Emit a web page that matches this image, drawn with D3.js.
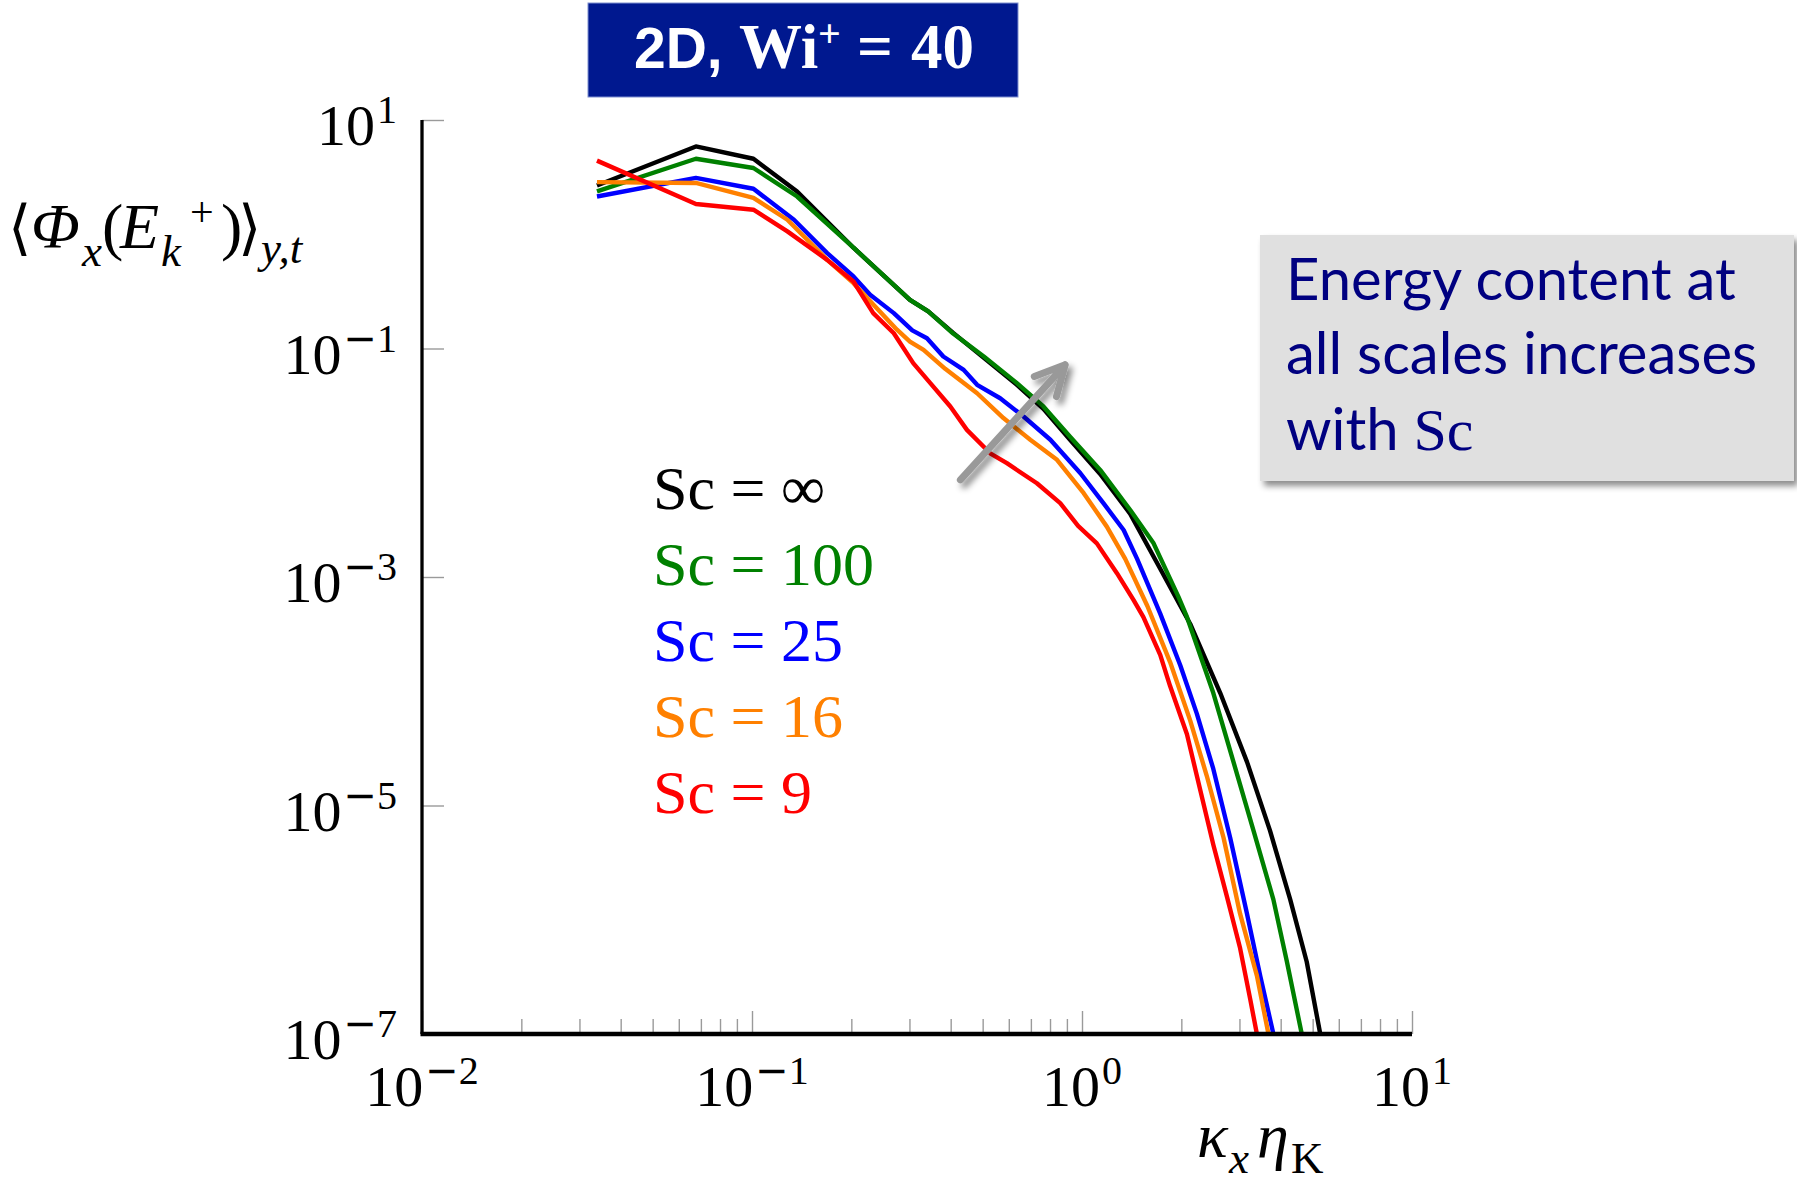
<!DOCTYPE html>
<html>
<head>
<meta charset="utf-8">
<script src="https://cdn.jsdelivr.net/npm/d3@7"></script>
<style>
  body { margin: 0; background: #fff; }
  svg { display: block; }
</style>
</head>
<body>
<div id="chart"></div>
<script>
// Spectra: kx*etaK and <Phi_x(E_k+)>_{y,t}
const kxInf = [0.0339, 0.0676, 0.101, 0.137, 0.203, 0.301, 0.342, 0.407, 0.504, 0.635, 0.764, 0.920, 1.135, 1.400, 1.726, 2.128, 2.624, 3.162, 3.715, 4.276, 4.797, 5.272];
const phiInf = [2.67, 5.87, 4.58, 2.37, 0.762, 0.267, 0.211, 0.137, 0.0828, 0.0481, 0.0296, 0.0159, 0.00798, 0.00357, 0.00118, 3.88e-4, 9.64e-5, 2.41e-5, 6.0e-6, 1.50e-6, 4.29e-7, 1.0e-7];

const kx100 = [0.0339, 0.0676, 0.101, 0.137, 0.203, 0.301, 0.342, 0.407, 0.504, 0.635, 0.764, 0.920, 1.135, 1.400, 1.648, 1.959, 2.080, 2.500, 2.877, 3.311, 3.802, 4.178, 4.634];
const phi100 = [2.37, 4.58, 3.80, 2.14, 0.762, 0.267, 0.211, 0.135, 0.0851, 0.0498, 0.0311, 0.0169, 0.00865, 0.00386, 0.00197, 6.73e-4, 4.47e-4, 9.64e-5, 2.41e-5, 6.0e-6, 1.50e-6, 4.29e-7, 1.0e-7];

const kx25 = [0.0339, 0.0676, 0.101, 0.134, 0.169, 0.203, 0.228, 0.269, 0.306, 0.339, 0.380, 0.438, 0.481, 0.565, 0.665, 0.802, 0.989, 1.161, 1.337, 1.469, 1.726, 1.986, 2.228, 2.500, 2.812, 3.162, 3.467, 3.802];
const phi25 = [2.14, 3.11, 2.50, 1.34, 0.684, 0.427, 0.295, 0.204, 0.144, 0.123, 0.0851, 0.0650, 0.0481, 0.0367, 0.0254, 0.0159, 0.00809, 0.00443, 0.00258, 0.00144, 4.78e-4, 1.68e-4, 6.37e-5, 2.09e-5, 5.22e-6, 1.13e-6, 3.24e-7, 1.0e-7];

const kx16 = [0.0339, 0.0676, 0.101, 0.128, 0.169, 0.203, 0.244, 0.275, 0.301, 0.331, 0.385, 0.481, 0.578, 0.697, 0.840, 1.012, 1.189, 1.352, 1.578, 1.849, 2.128, 2.388, 2.685, 3.013, 3.388, 3.673];
const phi16 = [2.86, 2.81, 2.08, 1.34, 0.597, 0.373, 0.211, 0.146, 0.115, 0.0973, 0.0664, 0.0406, 0.0246, 0.0159, 0.0106, 0.00541, 0.00276, 0.00144, 5.57e-4, 1.80e-4, 5.53e-5, 1.82e-5, 5.22e-6, 1.13e-6, 3.24e-7, 1.0e-7];

const kx9 = [0.0339, 0.0676, 0.101, 0.128, 0.169, 0.203, 0.233, 0.269, 0.308, 0.347, 0.399, 0.448, 0.527, 0.592, 0.730, 0.859, 0.973, 1.109, 1.276, 1.432, 1.535, 1.726, 1.849, 2.080, 2.280, 2.500, 2.748, 3.013, 3.236, 3.388];
const phi9 = [4.41, 1.84, 1.64, 1.06, 0.597, 0.386, 0.204, 0.136, 0.0745, 0.0498, 0.0311, 0.0194, 0.0121, 0.00991, 0.00662, 0.00443, 0.00280, 0.00197, 0.00108, 6.30e-4, 4.46e-4, 2.08e-4, 1.11e-4, 4.20e-5, 1.38e-5, 4.54e-6, 1.60e-6, 5.65e-7, 2.00e-7, 1.0e-7];

const seriesNames = ["∞", "100", "25", "16", "9"];
const seriesColors = ["#000000", "#008000", "#0000ff", "#ff8000", "#ff0000"];
const seriesKx = [kxInf, kx100, kx25, kx16, kx9];
const seriesPhi = [phiInf, phi100, phi25, phi16, phi9];

// Tick labels: 10 to the power of these
const xTicks = [1e-2, 1e-1, 1e0, 1e1];
const xTickExp = ["-2", "-1", "0", "1"];
const yTicks = [1e1, 1e-1, 1e-3, 1e-5, 1e-7];
const yTickExp = ["1", "-1", "-3", "-5", "-7"];

// "increases with Sc" arrow, in data coordinates (tail, head)
const arrowKx = [0.428, 0.889];
const arrowPhi = [0.00708, 0.0720];

const width = 1797, height = 1182;
const serif = "'Liberation Serif', 'Times New Roman', serif";

const svg = d3.select("#chart")
  .append("svg")
  .attr("width", width)
  .attr("height", height);

const defs = svg.append("defs");
const shadow = defs.append("filter").attr("id", "shadow")
  .attr("x", "-20%").attr("y", "-20%").attr("width", "140%").attr("height", "140%");
shadow.append("feDropShadow").attr("dx", 4).attr("dy", 5)
  .attr("stdDeviation", 3).attr("flood-color", "#000").attr("flood-opacity", 0.45);
defs.append("clipPath").attr("id", "plotClip")
  .append("rect").attr("x", 422).attr("y", 118).attr("width", 992).attr("height", 916);

// Scales
const x = d3.scaleLog().domain([1e-2, 1e1]).range([422, 1412]);
const y = d3.scaleLog().domain([1e-7, 1e1]).range([1034, 120]);

// x ticks: minor and major, pointing up into the plot
const minorX = x.ticks().filter(v => Math.abs(Math.log10(v) - Math.round(Math.log10(v))) > 1e-6);
svg.append("g")
  .attr("transform", `translate(0,${y(1e-7)})`)
  .call(d3.axisBottom(x).tickValues(minorX).tickSize(-15).tickFormat(""))
  .call(g => g.select(".domain").remove());
svg.append("g")
  .attr("transform", `translate(0,${y(1e-7)})`)
  .call(d3.axisBottom(x).tickValues(xTicks).tickSize(-23).tickFormat(""))
  .call(g => g.select(".domain").remove());

// y ticks pointing right
svg.append("g")
  .attr("transform", `translate(${x(1e-2)},0)`)
  .call(d3.axisLeft(y).tickValues(yTicks).tickSize(-22).tickFormat(""))
  .call(g => g.select(".domain").remove());

svg.selectAll(".tick line").attr("stroke", "#9a9a9a").attr("stroke-width", 1.4);

// Curves
const line = d3.line()
  .x(d => x(d[0]))
  .y(d => y(d[1]));

svg.append("g").attr("clip-path", "url(#plotClip)")
  .selectAll("path")
  .data(seriesKx.map((kx, i) => kx.map((k, j) => [k, seriesPhi[i][j]])))
  .enter()
  .append("path")
  .attr("d", line)
  .attr("fill", "none")
  .attr("stroke", (d, i) => seriesColors[i])
  .attr("stroke-width", 4.4)
  .attr("stroke-linejoin", "round");

// Axis lines
svg.append("line")
  .attr("x1", x(1e-2)).attr("x2", x(1e-2))
  .attr("y1", y(1e1)).attr("y2", y(1e-7))
  .attr("stroke", "#000").attr("stroke-width", 3.3);
svg.append("line")
  .attr("x1", x(1e-2) - 1.5).attr("x2", x(1e1))
  .attr("y1", y(1e-7)).attr("y2", y(1e-7))
  .attr("stroke", "#000").attr("stroke-width", 4.4);

// 10^e label: the minus comes from DejaVu Sans, which has a wider bar like TeX
function powerLabel(t, e) {
  t.append("tspan").text("10");
  const neg = e.startsWith("-");
  t.append("tspan")
    .attr("dy", -22).attr("dx", 2)
    .attr("font-size", 40)
    .style("font-family", neg ? "'DejaVu Sans'" : serif)
    .text(neg ? "−" : e);
  if (neg) t.append("tspan").attr("font-size", 40).text(e.slice(1));
}

const xLab = svg.append("g").style("font-family", serif).attr("fill", "#000");
xTicks.forEach((v, i) => {
  const t = xLab.append("text")
    .attr("x", x(v))
    .attr("y", y(1e-7) + 72)
    .attr("text-anchor", "middle")
    .attr("font-size", 58);
  powerLabel(t, xTickExp[i]);
});

const yLab = svg.append("g").style("font-family", serif).attr("fill", "#000");
yTicks.forEach((v, i) => {
  const t = yLab.append("text")
    .attr("x", x(1e-2) - 25)
    .attr("y", y(v) + 25)
    .attr("text-anchor", "end")
    .attr("font-size", 58);
  powerLabel(t, yTickExp[i]);
});

// Axis titles
const yTitle = svg.append("text")
  .attr("y", 248)
  .style("font-family", serif).attr("font-size", 64);
yTitle.append("tspan").attr("x", 8).attr("font-size", 60).style("font-family", "'DejaVu Serif', serif").text("⟨");
yTitle.append("tspan").attr("x", 31).attr("font-style", "italic").text("Φ");
yTitle.append("tspan").attr("x", 82).attr("dy", 18).attr("font-style", "italic").attr("font-size", 45).text("x");
yTitle.append("tspan").attr("x", 102).attr("dy", -18).text("(");
yTitle.append("tspan").attr("x", 120).attr("font-style", "italic").text("E");
yTitle.append("tspan").attr("x", 161).attr("dy", 18).attr("font-style", "italic").attr("font-size", 45).text("k");
yTitle.append("tspan").attr("x", 190).attr("dy", -40).attr("font-size", 42).text("+");
yTitle.append("tspan").attr("x", 221).attr("dy", 22).text(")");
yTitle.append("tspan").attr("x", 238).attr("font-size", 60).style("font-family", "'DejaVu Serif', serif").text("⟩");
yTitle.append("tspan").attr("x", 261).attr("dy", 15).attr("font-style", "italic").attr("font-size", 45).text("y,t");

const xTitle = svg.append("text")
  .attr("y", 1157)
  .style("font-family", serif).attr("font-size", 64);
xTitle.append("tspan").attr("x", 1197).attr("font-style", "italic").text("κ");
xTitle.append("tspan").attr("x", 1229).attr("dy", 16).attr("font-style", "italic").attr("font-size", 45).text("x");
xTitle.append("tspan").attr("x", 1257).attr("dy", -16).attr("font-style", "italic").text("η");
xTitle.append("tspan").attr("x", 1291).attr("dy", 16).attr("font-size", 45).text("K");

// Legend
svg.append("g")
  .style("font-family", serif).attr("font-size", 62)
  .selectAll("text")
  .data(seriesNames)
  .enter()
  .append("text")
  .attr("x", 653)
  .attr("y", (d, i) => 509 + i * 76)
  .attr("fill", (d, i) => seriesColors[i])
  .text(d => `Sc = ${d}`);

// Arrow
const ax0 = x(arrowKx[0]), ay0 = y(arrowPhi[0]);
const ax1 = x(arrowKx[1]), ay1 = y(arrowPhi[1]);
const ang = Math.atan2(ay0 - ay1, ax0 - ax1);
const barb = 33, spread = 27 * Math.PI / 180;
svg.append("path")
  .attr("d", `M${ax0},${ay0}L${ax1},${ay1}` +
    `M${ax1 + barb * Math.cos(ang - spread)},${ay1 + barb * Math.sin(ang - spread)}L${ax1},${ay1}` +
    `L${ax1 + barb * Math.cos(ang + spread)},${ay1 + barb * Math.sin(ang + spread)}`)
  .attr("fill", "none")
  .attr("stroke", "#999999")
  .attr("stroke-width", 7)
  .attr("stroke-linecap", "round")
  .attr("stroke-linejoin", "round")
  .attr("filter", "url(#shadow)");

// Title box
svg.append("rect")
  .attr("x", 588).attr("y", 3).attr("width", 430).attr("height", 94)
  .attr("fill", "#00188f")
  .attr("stroke", "#7f8fd0").attr("stroke-width", 1);
const title = svg.append("text")
  .attr("y", 68)
  .attr("fill", "#fff")
  .attr("font-weight", "bold");
title.append("tspan").attr("x", 634)
  .style("font-family", "'Liberation Sans', Arial, sans-serif").attr("font-size", 57)
  .text("2D,");
title.append("tspan").attr("x", 739)
  .style("font-family", serif).attr("font-size", 63)
  .text("Wi");
title.append("tspan").attr("x", 818).attr("dy", -21)
  .style("font-family", serif).attr("font-size", 40)
  .text("+");
title.append("tspan").attr("x", 857).attr("dy", 21)
  .style("font-family", serif).attr("font-size", 63)
  .text("=");
title.append("tspan").attr("x", 911)
  .style("font-family", serif).attr("font-size", 63)
  .text("40");

// Annotation box
svg.append("rect")
  .attr("x", 1260).attr("y", 235).attr("width", 534).attr("height", 246)
  .attr("fill", "#e0e0e0")
  .attr("filter", "url(#shadow)");
const note = svg.append("g")
  .style("font-family", "Lato, 'Open Sans', sans-serif")
  .attr("font-size", 58)
  .attr("fill", "#000080");
note.append("text").attr("x", 1286).attr("y", 300).text("Energy content at");
note.append("text").attr("x", 1286).attr("y", 374).text("all scales increases");
const last = note.append("text").attr("x", 1286).attr("y", 450);
last.append("tspan").text("with ");
last.append("tspan").style("font-family", serif).attr("font-size", 60).text("Sc");
</script>
</body>
</html>
